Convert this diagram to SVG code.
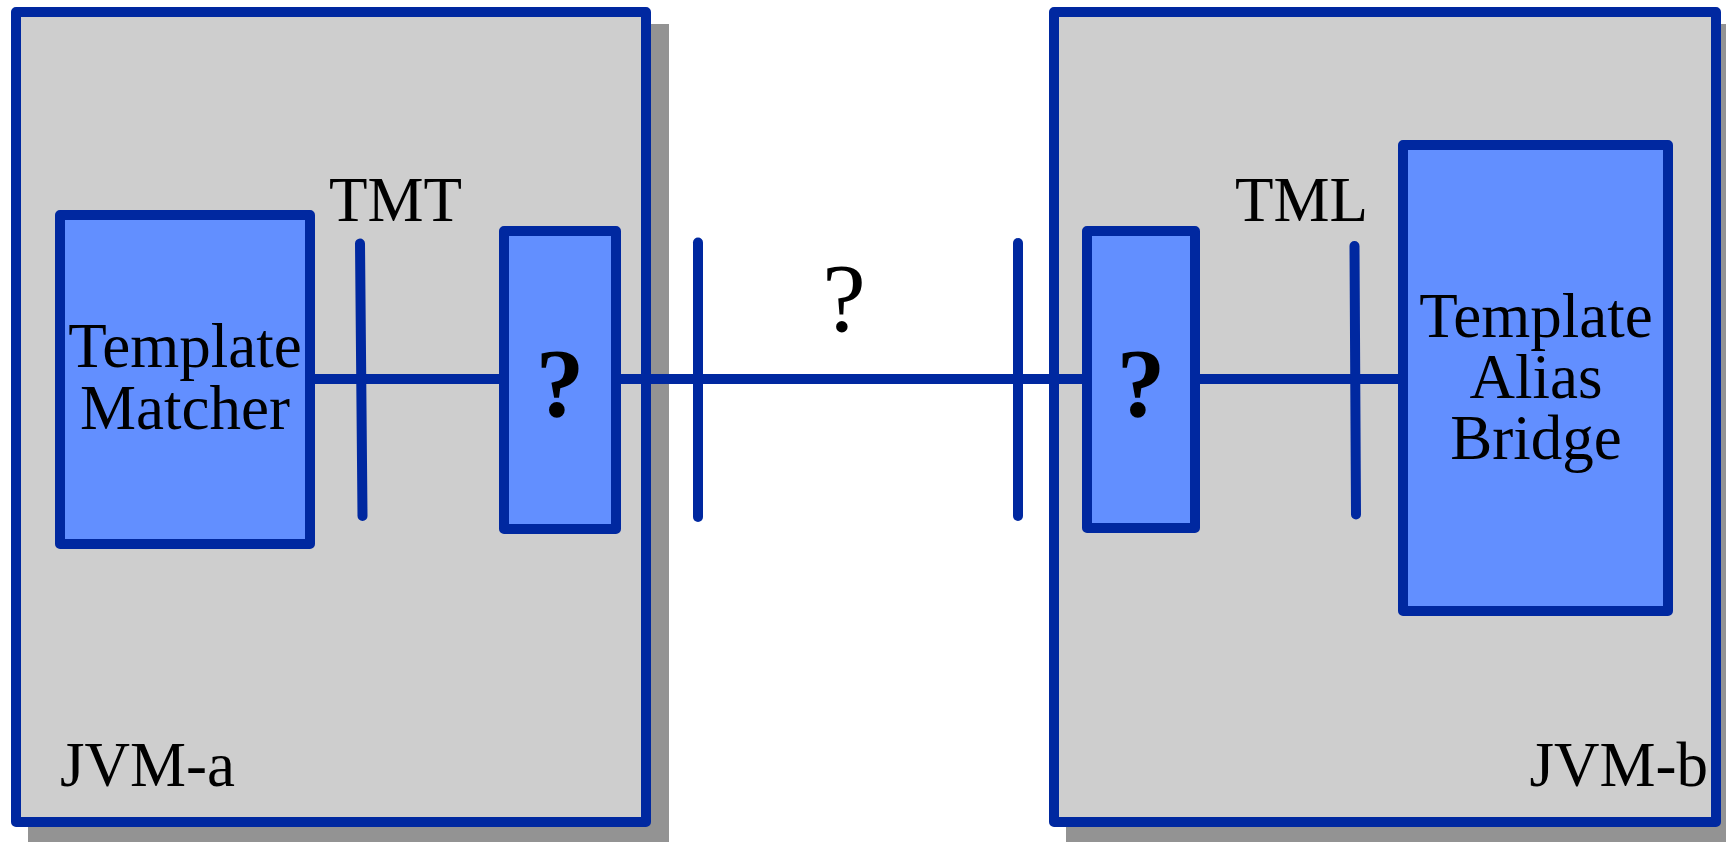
<svg xmlns="http://www.w3.org/2000/svg" width="1726" height="842" viewBox="0 0 1726 842">
<style>
.shadow{fill:#939393;stroke:none}
.jvm{fill:#cecece;stroke:#0028a0;stroke-width:10;stroke-linejoin:round}
.box{fill:#628fff;stroke:#0028a0;stroke-width:10;stroke-linejoin:round}
.wire{stroke:#0028a0;stroke-width:10;stroke-linecap:round;fill:none}
.wireh{stroke:#0028a0;stroke-width:10;stroke-linecap:butt;fill:none}
text{font-family:"Liberation Serif","Times New Roman",serif;fill:#000}
.lbl{font-size:63px}
.q{font-size:98px}
.qb{font-size:97px;font-weight:bold}
</style>
<rect width="1726" height="842" fill="#ffffff"/>
<g id="jvm-a">
<rect class="shadow" x="28" y="24" width="641" height="830"/>
<rect class="jvm" x="16" y="12" width="630" height="810"/>
<text class="lbl" x="60" y="786">JVM-a</text>
</g>
<g id="jvm-b">
<rect class="shadow" x="1066" y="24" width="680" height="830"/>
<rect class="jvm" x="1054" y="12" width="662" height="810"/>
<text class="lbl" x="1708" y="786" text-anchor="end">JVM-b</text>
</g>
<g id="connectors">
<line class="wireh" x1="310" y1="379" x2="504" y2="379"/>
<line class="wireh" x1="616" y1="379" x2="1087" y2="379"/>
<line class="wireh" x1="1195" y1="379" x2="1403" y2="379"/>
<line class="wire" x1="360" y1="243.5" x2="362.5" y2="516"/>
<line class="wire" x1="698" y1="242.5" x2="698" y2="517"/>
<line class="wire" x1="1018" y1="243" x2="1018" y2="516"/>
<line class="wire" x1="1354.5" y1="246" x2="1356" y2="514.5"/>
</g>
<g id="label-tmt"><text class="lbl" x="329" y="221">TMT</text></g>
<g id="label-tml"><text class="lbl" x="1235" y="221">TML</text></g>
<g id="label-net"><text class="q" x="844" y="331" text-anchor="middle">?</text></g>
<g id="template-matcher">
<rect class="box" x="60" y="215" width="250" height="329"/>
<text class="lbl" x="185" y="367" text-anchor="middle">Template</text>
<text class="lbl" x="185" y="428.5" text-anchor="middle">Matcher</text>
</g>
<g id="adapter-a">
<rect class="box" x="504" y="231" width="112" height="298"/>
<text class="qb" x="560" y="416" text-anchor="middle">?</text>
</g>
<g id="adapter-b">
<rect class="box" x="1087" y="231" width="108" height="297"/>
<text class="qb" x="1141" y="416" text-anchor="middle">?</text>
</g>
<g id="template-alias-bridge">
<rect class="box" x="1403" y="145" width="265" height="466"/>
<text class="lbl" x="1536" y="337" text-anchor="middle">Template</text>
<text class="lbl" x="1536" y="398" text-anchor="middle">Alias</text>
<text class="lbl" x="1536" y="459" text-anchor="middle">Bridge</text>
</g>
</svg>
